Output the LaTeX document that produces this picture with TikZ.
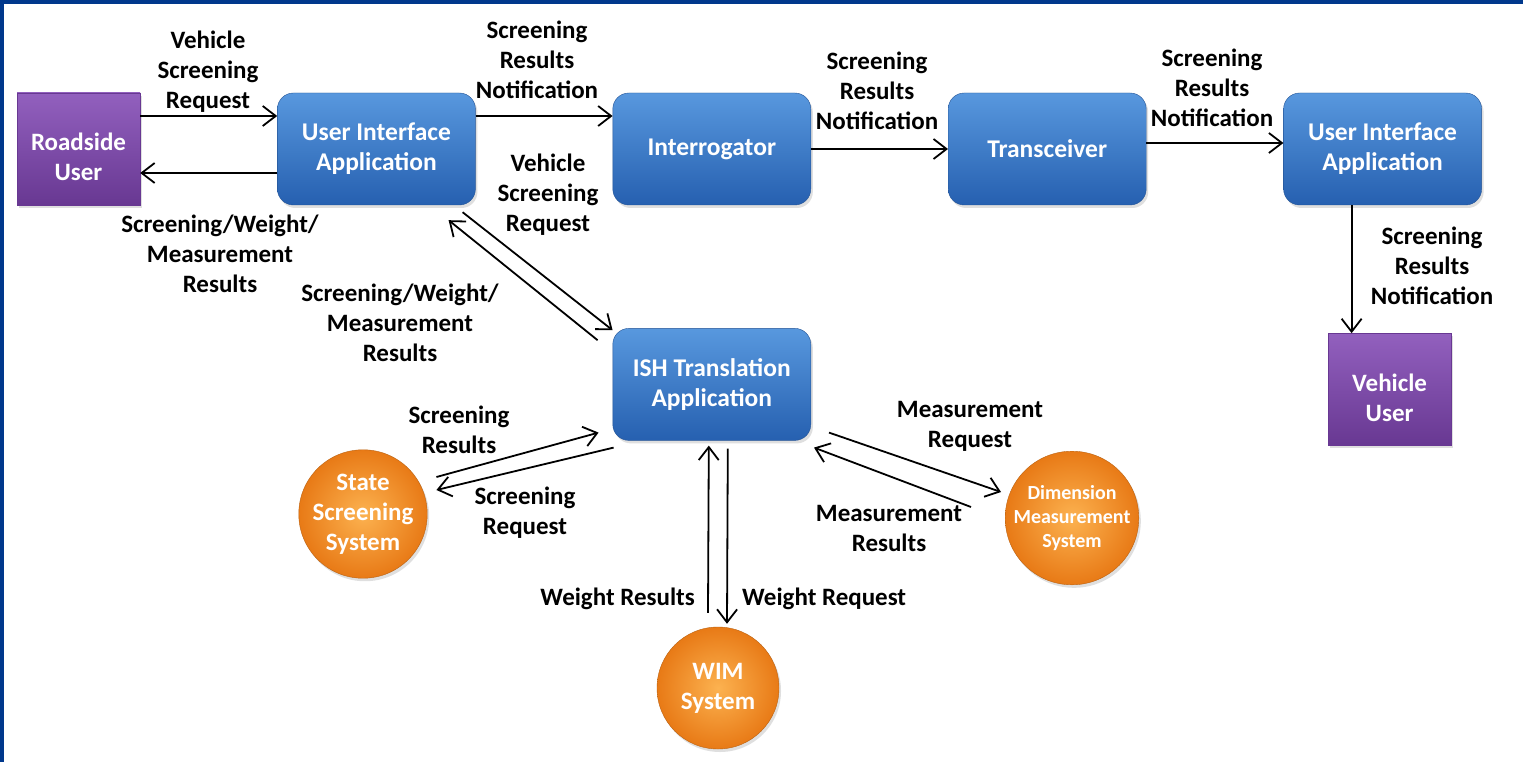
\documentclass[tikz,border=0pt]{standalone}
\usepackage{fontspec}
\setmainfont{Carlito}
\usepackage{tikz}
\usetikzlibrary{arrows.meta, positioning, shadows}

\definecolor{rahmenblau}{RGB}{0,56,140}
\definecolor{blauhell}{RGB}{88,152,222}
\definecolor{blaudunkel}{RGB}{38,96,176}
\definecolor{blaurand}{RGB}{36,84,150}
\definecolor{lilahell}{RGB}{146,96,190}
\definecolor{liladunkel}{RGB}{104,56,146}
\definecolor{orangehell}{RGB}{252,178,80}
\definecolor{orangedunkel}{RGB}{232,122,22}

\begin{document}
\begin{tikzpicture}[x=1pt, y=-1pt]
      \tikzset{
        anwendung/.style={rectangle, rounded corners=16pt, draw=blaurand, top color=blauhell,
                      bottom color=blaudunkel, text=white, minimum width=198pt, minimum height=112pt,
                      align=center, font=\fontsize{25.5}{30}\selectfont\bfseries,
                      drop shadow={opacity=0.25, shadow xshift=2pt, shadow yshift=-3pt}},
        akteur/.style={rectangle, draw=liladunkel, top color=lilahell, bottom color=liladunkel,
                      text=white, minimum width=123pt, minimum height=112pt, align=center,
                      font=\fontsize{25}{30}\selectfont\bfseries, text height=64pt, text depth=0pt,
                      drop shadow={opacity=0.25, shadow xshift=2pt, shadow yshift=-3pt}},
        teilsystem/.style={circle, draw=orangedunkel!80!black, shading=radial, inner color=orangehell,
                      outer color=orangedunkel, text=white, minimum size=122pt, inner sep=0pt,
                      align=center, font=\fontsize{25}{30}\selectfont\bfseries,
                      drop shadow={opacity=0.25, shadow xshift=2pt, shadow yshift=-3pt}},
        beschr/.style={align=center, inner sep=0pt, font=\fontsize{25}{30}\selectfont\bfseries},
        pfeil/.style={-{Straight Barb[length=13pt, width=20pt]}, line width=1.8pt}
      }

      % Rahmen
      \fill[rahmenblau] (0,0) rectangle (1523,762);
      \fill[white] (4,4) rectangle (1523,762);

      % obere Reihe
      \node[akteur] (roadside) at (78.5,149) {Roadside\\User};
      \node[anwendung, right=137pt of roadside] (ui1) {User Interface\\Application};
      \node[anwendung, right=137pt of ui1] (interr) {Interrogator};
      \node[anwendung, right=137pt of interr] (trans) {Transceiver};
      \node[anwendung, right=137pt of trans] (ui2) {User Interface\\Application};
      \node[akteur, below=128pt of ui2, xshift=7pt] (vuser) {Vehicle\\User};

      % Mitte und Teilsysteme
      \node[anwendung, below=123pt of interr] (ish) {ISH Translation\\Application};
      \node[teilsystem] (state) at (363,514) {State\\Screening\\System};
      \node[teilsystem, font=\fontsize{20}{24}\selectfont\bfseries] (dim) at (1072,518)
        {Dimension\\Measurement\\System};
      \node[teilsystem] (wim) at (718,688) {WIM\\System};

      \draw[pfeil] ([yshift=33pt]roadside.east) -- ([yshift=33pt]ui1.west);
      \draw[pfeil] ([yshift=-24pt]ui1.west) -- ([yshift=-24pt]roadside.east);
      \draw[pfeil] ([yshift=33pt]ui1.east) -- ([yshift=33pt]interr.west);
      \draw[pfeil] (interr) -- (trans);
      \draw[pfeil] ([yshift=6pt]trans.east) -- ([yshift=6pt]ui2.west);
      \draw[pfeil] ([xshift=-31pt]ui2.south) -- ([xshift=-38pt]vuser.north);

      \draw[pfeil] ([xshift=-13pt, yshift=-7pt]ui1.south east) -- ([yshift=-2pt]ish.north west);
      \draw[pfeil] ([xshift=-15pt, yshift=-12pt]ish.north west) -- ([xshift=-27pt, yshift=-15pt]ui1.south east);

      \draw[pfeil] ([xshift=9pt, yshift=37pt]state.east) -- ([xshift=-14pt, yshift=8pt]ish.south west);
      \draw[pfeil] ([xshift=1pt, yshift=-7pt]ish.south west) -- ([xshift=9pt, yshift=24pt]state.east);

      \draw[pfeil] ([xshift=18pt, yshift=8pt]ish.south east) -- ([xshift=-4pt, yshift=26pt]dim.west);
      \draw[pfeil] ([xshift=-34pt, yshift=11pt]dim.west) -- ([xshift=3pt, yshift=-7pt]ish.south east);

      \draw[pfeil] ([xshift=-10pt, yshift=14pt]wim.north) -- ([xshift=-3pt, yshift=-5pt]ish.south);
      \draw[pfeil] ([xshift=16pt, yshift=-8pt]ish.south) -- ([xshift=9pt, yshift=3pt]wim.north);

      % Beschriftungen
      \node[beschr] (l1) at (208,72) {Vehicle\\Screening\\Request};
      \node[beschr] (l2) at (220,254) {Screening/Weight/\\Measurement\\Results};
      \node[beschr] (l3) at (537,60) {Screening\\Results\\Notification};
      \node[beschr] (l4) at (877,91) {Screening\\Results\\Notification};
      \node[beschr] (l5) at (1212,88) {Screening\\Results\\Notification};
      \node[beschr] (l6) at (1432,266) {Screening\\Results\\Notification};
      \node[beschr] (l7) at (548,195) {Vehicle\\Screening\\Request};
      \node[beschr] (l8) at (400,323) {Screening/Weight/\\Measurement\\Results};
      \node[beschr] (l9) at (459,430) {Screening\\Results};
      \node[beschr] (l10) at (525,513) {Screening\\Request};
      \node[beschr] (l11) at (970,426) {Measurement\\Request};
      \node[beschr] (l12) at (889,528) {Measurement\\Results};
      \node[beschr, anchor=east] (l13) at (695,599) {Weight Results};
      \node[beschr, anchor=west] (l14) at (742,599) {Weight Request};

    \end{tikzpicture}
\end{document}
